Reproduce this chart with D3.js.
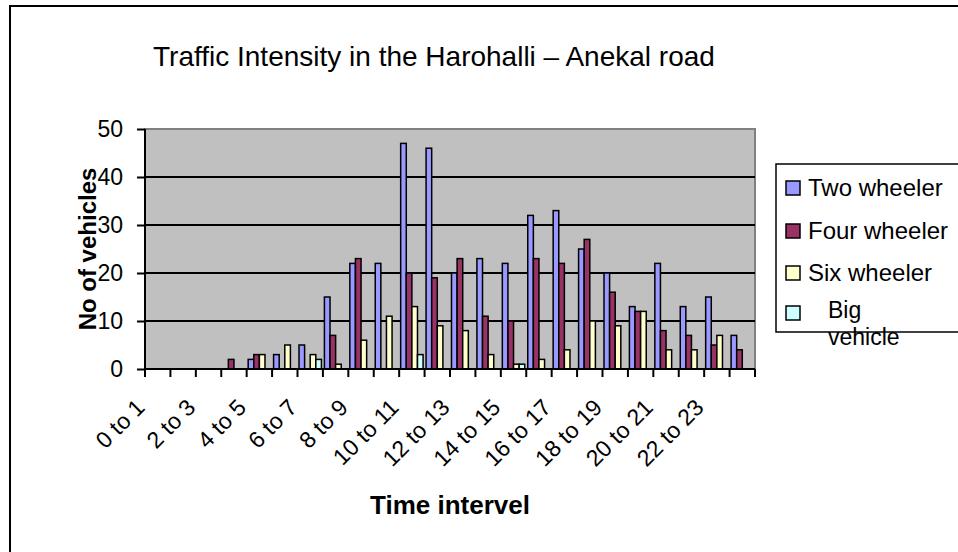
<!DOCTYPE html>
<html>
<head>
<meta charset="utf-8">
<script src="https://cdn.jsdelivr.net/npm/d3@7"></script>
<style>
    body { margin: 0; background: #fff; }
    text { font-family: "Liberation Sans", Arial, sans-serif; fill: #000; }
</style>
</head>
<body>
<div id="chart"></div>
<script>
// hour intervals, one bar group each
var categories = ["0 to 1", "1 to 2", "2 to 3", "3 to 4", "4 to 5", "5 to 6", "6 to 7", "7 to 8",
    "8 to 9", "9 to 10", "10 to 11", "11 to 12", "12 to 13", "13 to 14", "14 to 15", "15 to 16",
    "16 to 17", "17 to 18", "18 to 19", "19 to 20", "20 to 21", "21 to 22", "22 to 23", "23 to 24"];

var seriesNames = ["Two wheeler", "Four wheeler", "Six wheeler", "Big vehicle"];
var seriesColors = ["#9999FF", "#993366", "#FFFFCC", "#CCFFFF"];

var twoWheeler   = [0, 0, 0, 0, 2, 3, 5, 15, 22, 22, 47, 46, 20, 23, 22, 32, 33, 25, 20, 13, 22, 13, 15, 7];
var fourWheeler  = [0, 0, 0, 2, 3, 0, 0, 7, 23, 0, 20, 19, 23, 11, 10, 23, 22, 27, 16, 12, 8, 7, 5, 4];
var sixWheeler   = [0, 0, 0, 0, 3, 5, 3, 1, 6, 11, 13, 9, 8, 3, 1, 2, 4, 10, 9, 12, 4, 4, 7, 0];
var bigVehicle   = [0, 0, 0, 0, 0, 0, 2, 0, 0, 0, 3, 0, 0, 0, 1, 0, 0, 0, 0, 0, 0, 0, 0, 0];

var yTicks = [0, 10, 20, 30, 40, 50];

var seriesValues = [twoWheeler, fourWheeler, sixWheeler, bigVehicle];

var W = 958, H = 552;
var plot = {left: 145, right: 755, top: 129, bottom: 369};

var svg = d3.select("#chart").append("svg")
    .attr("width", W)
    .attr("height", H);

svg.append("rect")
    .attr("width", W).attr("height", H)
    .attr("fill", "#fff");

// chart area frame (runs off the right and bottom edge)
svg.append("rect")
    .attr("x", 10).attr("y", 6)
    .attr("width", W + 20).attr("height", H + 20)
    .attr("fill", "none")
    .attr("stroke", "#000")
    .attr("stroke-width", 2);

svg.append("text")
    .attr("x", 153)
    .attr("y", 66)
    .attr("font-size", 28)
    .text("Traffic Intensity in the Harohalli \u2013 Anekal road");

var x = d3.scaleBand()
    .domain(categories)
    .range([plot.left, plot.right])
    .padding(0);

var x1 = d3.scaleBand()
    .domain(seriesNames)
    .range([1.5, x.bandwidth() - 1.5])
    .padding(0);

var y = d3.scaleLinear()
    .domain([0, 50])
    .range([plot.bottom, plot.top]);

// grey plot area
svg.append("rect")
    .attr("x", plot.left).attr("y", plot.top)
    .attr("width", plot.right - plot.left)
    .attr("height", plot.bottom - plot.top)
    .attr("fill", "#C0C0C0")
    .attr("stroke", "#808080")
    .attr("stroke-width", 2);

// gridlines
svg.append("g")
    .selectAll("line")
    .data(yTicks.filter(function (d) { return d > 0 && d < 50; }))
    .enter()
    .append("line")
    .attr("x1", plot.left).attr("x2", plot.right)
    .attr("y1", function (d) { return y(d); })
    .attr("y2", function (d) { return y(d); })
    .attr("stroke", "#000")
    .attr("stroke-width", 2);

var rows = [];
categories.forEach(function (c, i) {
    seriesNames.forEach(function (s, j) {
        rows.push({cat: c, series: s, idx: j, value: seriesValues[j][i]});
    });
});

svg.append("g")
    .selectAll("rect")
    .data(rows.filter(function (d) { return d.value > 0; }))
    .enter()
    .append("rect")
    .attr("x", function (d) { return x(d.cat) + x1(d.series); })
    .attr("y", function (d) { return y(d.value); })
    .attr("width", x1.bandwidth())
    .attr("height", function (d) { return y(0) - y(d.value); })
    .attr("fill", function (d) { return seriesColors[d.idx]; })
    .attr("stroke", "#000")
    .attr("stroke-width", 1.5);

// y axis
var yAxis = d3.axisLeft(y)
    .tickValues(yTicks)
    .tickSize(8)
    .tickPadding(14);

var gy = svg.append("g")
    .attr("transform", "translate(" + plot.left + ",0)")
    .call(yAxis);
gy.selectAll("text").attr("font-size", 23).attr("font-family", null);
gy.selectAll("line, path").attr("stroke", "#000").attr("stroke-width", 2);
gy.select("path").attr("d", "M0," + plot.top + "V" + plot.bottom);

// x axis: ticks on category edges, every second label
var gx = svg.append("g")
    .attr("transform", "translate(0," + plot.bottom + ")");
gx.append("line")
    .attr("x1", plot.left).attr("x2", plot.right)
    .attr("stroke", "#000").attr("stroke-width", 2);
gx.selectAll(".tick")
    .data(categories.concat(["end"]))
    .enter()
    .append("line")
    .attr("x1", function (d, i) { return i < categories.length ? x(d) : plot.right; })
    .attr("x2", function (d, i) { return i < categories.length ? x(d) : plot.right; })
    .attr("y1", 0).attr("y2", 8)
    .attr("stroke", "#000").attr("stroke-width", 2);

gx.selectAll("text")
    .data(categories.filter(function (d, i) { return i % 2 === 0; }))
    .enter()
    .append("text")
    .attr("font-size", 23)
    .attr("text-anchor", "end")
    .attr("transform", function (d) {
        return "translate(" + (x(d) + 1) + ",40) rotate(-45)";
    })
    .text(function (d) { return d; });

// axis titles
svg.append("text")
    .attr("x", 450)
    .attr("y", 514)
    .attr("text-anchor", "middle")
    .attr("font-size", 26)
    .attr("font-weight", "bold")
    .text("Time intervel");

svg.append("text")
    .attr("transform", "translate(96,249) rotate(-90)")
    .attr("text-anchor", "middle")
    .attr("font-size", 24)
    .attr("font-weight", "bold")
    .text("No of vehicles");

// legend
var legend = svg.append("g");
legend.append("rect")
    .attr("x", 776).attr("y", 164)
    .attr("width", 200).attr("height", 168)
    .attr("fill", "#fff")
    .attr("stroke", "#000")
    .attr("stroke-width", 1.5);

var legendY = [188, 231, 273, 313];
var items = legend.selectAll(".item")
    .data(seriesNames)
    .enter()
    .append("g")
    .attr("transform", function (d, i) { return "translate(786," + legendY[i] + ")"; });

items.append("rect")
    .attr("x", 0).attr("y", -7)
    .attr("width", 14).attr("height", 14)
    .attr("fill", function (d, i) { return seriesColors[i]; })
    .attr("stroke", "#000")
    .attr("stroke-width", 1.5);

items.filter(function (d, i) { return i < 3; })
    .append("text")
    .attr("x", 22).attr("y", 8)
    .attr("font-size", 24)
    .text(function (d) { return d; });

// last entry wraps onto two lines
var big = items.filter(function (d, i) { return i === 3; })
    .append("text")
    .attr("font-size", 23);
big.append("tspan").attr("x", 42).attr("y", 5).text("Big");
big.append("tspan").attr("x", 42).attr("y", 32).text("vehicle");
</script>
</body>
</html>
